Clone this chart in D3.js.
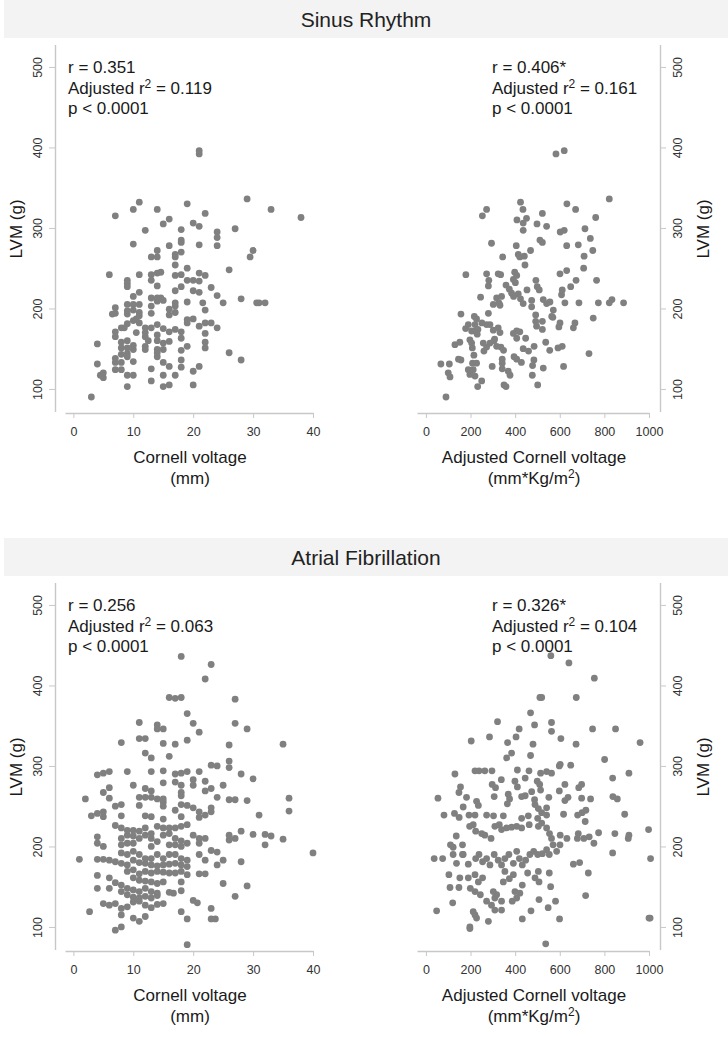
<!DOCTYPE html>
<html><head><meta charset="utf-8">
<script src="https://cdn.jsdelivr.net/npm/d3@7"></script>
<style>
body{margin:0;background:#fff;}
svg{display:block;font-family:"Liberation Sans",Arial,Helvetica,sans-serif;}
</style></head><body>
<svg id="chart" width="728" height="1038"></svg>
<script>
const sectionTitles = ["Sinus Rhythm", "Atrial Fibrillation"];
const cornellTicks = [0, 10, 20, 30, 40];
const adjustedTicks = [0, 200, 400, 600, 800, 1000];
const lvmTicks = [100, 200, 300, 400, 500];
const rValues = ["0.351", "0.406*", "0.256", "0.326*"];
const adjR2Values = ["0.119", "0.161", "0.063", "0.104"];
const pValues = ["< 0.0001", "< 0.0001", "< 0.0001", "< 0.0001"];

// Sinus rhythm: [Cornell voltage (mm), LVM (g)]
const srCornell = [[21,396],[21,392],[29,336],[11,332],[19,330],[10,323],[14,323],[33,323],[22,318],[7,315],[38,313],[16,311],[15,305],[20,306],[21,302],[12,297],[18,298],[27,299],[24,295],[24,288],[24,278],[18,285],[18,282],[10,280],[16,278],[21,279],[14,272],[13,264],[14,264],[17,267],[17,264],[18,270],[30,272],[29.5,264],[17,254],[26,248],[19,250],[6,242],[11,242],[13,242],[14,244],[14.6,245],[17,241],[18,242],[21,244],[22,241],[9,235],[9,231],[9,227],[19,235],[20,235],[21,234],[13,235],[14,228],[18,227],[23,226],[20,222],[21,220],[17,222],[11,220],[10,215],[13,213],[14,213],[14.6,213],[15,210],[14,209],[24,216],[25,207],[28,212],[30.6,207],[31,207],[32,207],[19,208],[21.6,207],[17,207],[17,203],[16,199],[16,192],[9,205],[9,197],[9,193],[10,205],[11,205],[10,198],[7,201],[7,194],[6.5,193],[13,203],[13,194],[17,195],[11,195],[11,191],[10.5,187],[10,185],[11,182],[22,198],[22,182],[23,182],[24,176],[19,186],[20,187],[19,182],[21,178],[14,180],[15,175],[12,176],[13,176],[12,170],[9,181],[8,176],[8.5,176],[7,171],[7,165],[10.5,170],[16,171],[17,174],[18,171],[18,163],[22,169],[12,165],[12.5,160],[12,153],[12,149],[14,167],[14,160],[14,149],[14,145],[14,140],[15,157],[16,159],[15,149],[8,158],[9,160],[8,151],[9,151],[10,154],[10,149],[8,143],[9,144],[9,140],[4,156],[18,148],[19,153],[22,158],[22,151],[26,145],[28,136],[7,138],[7,133],[8,133],[10,134],[4,131],[15,133],[16,128],[18,136],[18,127],[21,128],[20,122],[7,124],[8,124],[13,125],[5,120],[4.5,117],[5,114],[9,117],[10,117],[15,117],[17,117],[13,110],[9,103],[15,103],[16,105],[20,105],[3,90]];

// Sinus rhythm: [Adjusted Cornell voltage (mm*Kg/m2), LVM (g)]
const srAdjusted = [[620,396],[583,392],[822,336],[424,332],[632,330],[272,323],[253,315],[435,323],[671,323],[522,318],[761,313],[451,312],[408,310],[436,306],[436,297],[498,305],[541,302],[602,295],[620,297],[713,299],[737,287],[511,285],[522,282],[294,281],[405,278],[631,278],[683,279],[469,272],[748,272],[344,264],[414,267],[421,264],[441,265],[709,265],[444,254],[707,250],[179,242],[272,243],[324,243],[335,242],[398,245],[407,241],[601,243],[631,247],[765,235],[282,235],[280,228],[392,236],[401,232],[493,235],[499,227],[508,223],[673,235],[453,223],[359,229],[374,224],[384,219],[393,215],[611,223],[608,217],[649,227],[245,214],[317,213],[339,215],[327,207],[332,204],[302,205],[157,193],[280,194],[414,218],[424,212],[436,206],[474,210],[474,202],[526,211],[541,206],[556,208],[571,198],[564,190],[623,207],[686,207],[773,207],[822,207],[834,211],[886,207],[492,192],[492,184],[496,178],[522,174],[522,184],[569,189],[601,182],[596,177],[668,182],[661,176],[750,188],[178,175],[190,180],[217,190],[227,187],[220,180],[233,174],[220,172],[230,168],[251,182],[272,180],[287,180],[302,173],[324,176],[332,170],[308,162],[392,169],[407,172],[407,163],[421,171],[447,163],[436,150],[460,147],[485,153],[537,158],[555,148],[592,151],[611,153],[731,144],[205,172],[197,161],[205,157],[208,151],[215,142],[257,157],[272,152],[260,147],[287,157],[305,160],[317,153],[336,152],[348,148],[342,137],[342,132],[395,140],[407,137],[428,133],[484,136],[478,129],[477,117],[526,126],[617,128],[152,158],[130,155],[157,136],[146,137],[67,131],[105,131],[100,120],[108,115],[190,124],[197,118],[212,124],[220,116],[297,128],[342,125],[369,122],[377,117],[250,110],[232,103],[350,105],[359,103],[501,105],[90,90],[209,132],[227,132]];

// Atrial fibrillation: [Cornell voltage (mm), LVM (g)]
const afCornell = [[18,436],[23,426],[22,408],[16,385],[17,384],[18,385],[27,383],[19,365],[11,354],[14,351],[14,346],[15,346],[20,353],[27,353],[21,342],[29,346],[11,334],[12,334],[8,329],[15,328],[17,327],[19,332],[26,326],[35,327],[12,316],[13,310],[16,312],[23,301],[24,300],[26,306],[26,298],[4,289],[5,291],[6,293],[9,293],[13,293],[15,294],[17,290],[18,291],[19,293],[21,293],[28,290],[30,284],[10,276],[12,272],[13,269],[15,279],[17,280],[18,276],[20,283],[20,276],[22,281],[23,272],[22,269],[25,276],[6,273],[5,267],[6,260],[2,259],[11,261],[12,261],[13,261],[14,259],[15,259],[18,267],[18,263],[24,261],[26,258],[27,258],[29,257],[36,260],[36,244],[15,255],[15,250],[7,250],[8,252],[11,251],[18,252],[19,251],[20,248],[23,248],[23,243],[17,245],[3,238],[4,241],[5,237],[5,243],[8,238],[12,238],[13,237],[15,234],[18,237],[21,243],[21,236],[22,239],[31,239],[7,226],[8,223],[9,220],[10,220],[11,219],[12,223],[13,216],[14,225],[15,223],[16,223],[17,223],[18,225],[19,227],[20,214],[8,210],[9,214],[10,213],[11,210],[12,214],[13,210],[14,206],[15,214],[16,216],[17,210],[18,207],[19,204],[9,204],[10,204],[8,202],[13,200],[16,202],[17,202],[18,200],[8,192],[9,190],[10,194],[11,190],[12,185],[13,185],[14,190],[15,185],[16,190],[17,190],[18,185],[19,183],[7,181],[8,179],[9,177],[10,183],[11,180],[12,179],[13,177],[14,176],[15,177],[16,178],[17,179],[18,177],[19,175],[9,169],[10,171],[11,166],[12,169],[13,167],[14,169],[15,168],[16,167],[17,167],[18,169],[19,165],[10,161],[11,158],[12,157],[13,156],[14,154],[15,156],[18,156],[8,152],[9,148],[10,146],[11,144],[12,148],[13,144],[14,142],[16,143],[16.7,142],[18,145],[8,144],[9,140],[10,137],[11,136],[12,138],[13,136],[14,139],[10,131],[11,132],[12,127],[13,124],[14,128],[15,129],[8,123],[9,125],[4,212],[4,204],[5,200],[21,210],[22,210],[21,204],[26,214],[26,208],[27,210],[28,219],[30,215],[32,215],[33,213],[32,202],[35,209],[40,192],[1,184],[4,184],[5,184],[6,183],[23,195],[24,193],[22,183],[24,177],[25,183],[28,181],[21,190],[21,166],[22,166],[4,164],[6,161],[7,155],[4,148],[6,148],[25,154],[29,151],[27,138],[5,129],[6,127],[7,129],[8,115],[20,133],[20.7,130],[23,123],[2.7,119],[10,111],[11,107],[12,113],[18,119],[19,110],[23,110],[23.7,110],[7,96],[8,100],[19,78]];

// Atrial fibrillation: [Adjusted Cornell voltage (mm*Kg/m2), LVM (g)]
const afAdjusted = [[560,437],[641,428],[755,409],[511,385],[519,385],[674,385],[469,366],[321,355],[487,351],[563,354],[563,343],[418,346],[404,336],[747,346],[850,346],[605,334],[673,327],[960,329],[203,331],[285,336],[366,329],[480,327],[384,316],[362,310],[469,313],[801,308],[598,300],[602,302],[649,301],[130,290],[220,294],[238,294],[264,294],[296,294],[410,295],[462,294],[514,291],[541,293],[563,291],[837,285],[910,291],[155,274],[148,267],[338,283],[297,277],[312,273],[399,281],[445,285],[410,274],[499,281],[510,277],[514,270],[623,277],[598,269],[698,277],[685,273],[54,260],[182,261],[227,256],[235,251],[306,262],[375,259],[365,253],[369,265],[429,262],[445,263],[474,268],[487,258],[489,252],[504,247],[551,261],[541,248],[519,242],[637,261],[623,257],[698,260],[738,259],[838,262],[858,259],[81,239],[128,241],[149,236],[167,249],[193,239],[220,239],[272,239],[303,238],[347,238],[429,235],[459,238],[501,235],[541,239],[617,240],[680,239],[717,245],[700,242],[714,231],[891,240],[136,213],[110,202],[122,199],[164,202],[164,190],[196,225],[212,227],[223,219],[250,216],[264,214],[292,210],[309,225],[329,227],[339,221],[362,223],[384,224],[407,225],[429,223],[463,227],[504,225],[519,229],[541,223],[554,216],[563,210],[602,214],[632,210],[679,210],[683,216],[708,210],[732,212],[753,204],[774,217],[847,216],[910,214],[907,210],[998,221],[837,192],[37,185],[75,185],[122,190],[137,179],[167,190],[190,178],[223,185],[238,190],[254,181],[272,185],[287,177],[306,190],[324,183],[339,177],[354,185],[372,190],[392,179],[407,194],[419,185],[432,177],[447,183],[466,190],[483,194],[501,190],[522,191],[541,196],[553,190],[570,202],[586,194],[601,202],[661,178],[689,180],[728,167],[1007,185],[103,165],[152,161],[108,149],[148,149],[190,161],[220,165],[235,156],[254,161],[199,148],[220,144],[244,140],[302,144],[309,136],[272,132],[294,127],[317,140],[339,132],[347,156],[354,169],[374,160],[392,165],[399,144],[407,136],[421,142],[387,132],[432,152],[456,167],[489,161],[507,156],[504,169],[553,167],[559,150],[716,139],[120,130],[48,120],[212,119],[220,115],[227,111],[197,100],[197,98],[280,107],[309,121],[339,121],[432,110],[471,120],[507,134],[548,124],[581,132],[599,110],[1000,111],[1005,111],[537,79]];

const svg = d3.select("#chart");
const FONT = "Liberation Sans, Arial, Helvetica, sans-serif";
const AXIS_GRAY = "#c8c8c8";
const TEXT = "#1a1a1a";
const LABEL_SIZE = "17px";
const TICK_SIZE = "12.5px";

function drawHeader(off, title) {
  svg.append("rect").attr("x", 4).attr("y", off).attr("width", 724).attr("height", 38).attr("fill", "#f3f3f3");
  svg.append("text").attr("x", 366).attr("y", off + 27).attr("text-anchor", "middle")
    .attr("fill", "#222").style("font-size", "21px").text(title);
}

function drawPanel(off, side, data, xDomain, xRange, xTicks, idx, titleLines) {
  const y = d3.scaleLinear().domain([72, 528]).range([411.5 + off, 44.4 + off]);
  const x = d3.scaleLinear().domain(xDomain).range(xRange);
  const axisPos = side === "left" ? 55 : 660;

  const yAxis = (side === "left" ? d3.axisLeft(y) : d3.axisRight(y))
    .tickValues(lvmTicks).tickSize(6).tickSizeOuter(0).tickFormat(d3.format("d"));
  const gy = svg.append("g").attr("transform", `translate(${axisPos},0)`).call(yAxis)
    .attr("font-family", FONT);
  gy.select(".domain").attr("stroke", AXIS_GRAY).attr("stroke-width", 1.4);
  gy.selectAll(".tick line").attr("stroke", AXIS_GRAY);
  gy.selectAll(".tick text")
    .attr("transform", "rotate(-90)")
    .attr("x", 0).attr("dy", 0)
    .attr("y", side === "left" ? -13 : 21.5)
    .attr("text-anchor", "middle").attr("fill", "#333").style("font-size", TICK_SIZE);

  const xAxis = d3.axisBottom(x).tickValues(xTicks).tickSize(5).tickSizeOuter(0).tickPadding(9)
    .tickFormat(d3.format("d"));
  const gx = svg.append("g").attr("transform", `translate(0,${413 + off})`).call(xAxis)
    .attr("font-family", FONT);
  gx.select(".domain").attr("stroke", AXIS_GRAY).attr("stroke-width", 1.4);
  gx.selectAll(".tick line").attr("stroke", AXIS_GRAY);
  gx.selectAll(".tick text").attr("fill", "#333").style("font-size", TICK_SIZE);

  // points
  svg.append("g").selectAll("circle").data(data).join("circle")
    .attr("cx", d => x(d[0])).attr("cy", d => y(d[1])).attr("r", 3.4).attr("fill", "#808080");

  // y title
  svg.append("text")
    .attr("transform", `translate(${side === "left" ? 22 : 709},${229 + off}) rotate(-90)`)
    .attr("text-anchor", "middle").attr("fill", TEXT).style("font-size", LABEL_SIZE).text("LVM (g)");

  // x title
  const cx = (xRange[0] + xRange[1]) / 2 + 1;
  svg.append("text").attr("x", cx).attr("y", 463 + off).attr("text-anchor", "middle")
    .attr("fill", TEXT).style("font-size", LABEL_SIZE).text(titleLines[0]);
  const t2 = svg.append("text").attr("x", cx).attr("y", 484 + off).attr("text-anchor", "middle")
    .attr("fill", TEXT).style("font-size", LABEL_SIZE);
  if (titleLines[1].includes("^2")) {
    const parts = titleLines[1].split("^2");
    t2.append("tspan").text(parts[0]);
    t2.append("tspan").attr("dy", -6).style("font-size", "12px").text("2");
    t2.append("tspan").attr("dy", 6).text(parts[1]);
  } else t2.text(titleLines[1]);

  // stats
  const sx = side === "left" ? 68 : 492;
  svg.append("text").attr("x", sx).attr("y", 73 + off).attr("fill", TEXT).style("font-size", LABEL_SIZE)
    .text("r = " + rValues[idx]);
  const s2 = svg.append("text").attr("x", sx).attr("y", 94 + off).attr("fill", TEXT).style("font-size", LABEL_SIZE);
  s2.append("tspan").text("Adjusted r");
  s2.append("tspan").attr("dy", -6).style("font-size", "12px").text("2");
  s2.append("tspan").attr("dy", 6).text(" = " + adjR2Values[idx]);
  svg.append("text").attr("x", sx).attr("y", 114 + off).attr("fill", TEXT).style("font-size", LABEL_SIZE)
    .text("p " + pValues[idx]);
}

const offsets = [0, 538];
drawHeader(offsets[0], sectionTitles[0]);
drawHeader(offsets[1], sectionTitles[1]);

drawPanel(offsets[0], "left", srCornell, [-1.4, 40], [65, 313], cornellTicks, 0, ["Cornell voltage", "(mm)"]);
drawPanel(offsets[0], "right", srAdjusted, [-40, 1000], [417, 649], adjustedTicks, 1, ["Adjusted Cornell voltage", "(mm*Kg/m^2)"]);
drawPanel(offsets[1], "left", afCornell, [-1.4, 40], [65, 313], cornellTicks, 2, ["Cornell voltage", "(mm)"]);
drawPanel(offsets[1], "right", afAdjusted, [-40, 1000], [417, 649], adjustedTicks, 3, ["Adjusted Cornell voltage", "(mm*Kg/m^2)"]);
</script>
</body></html>
